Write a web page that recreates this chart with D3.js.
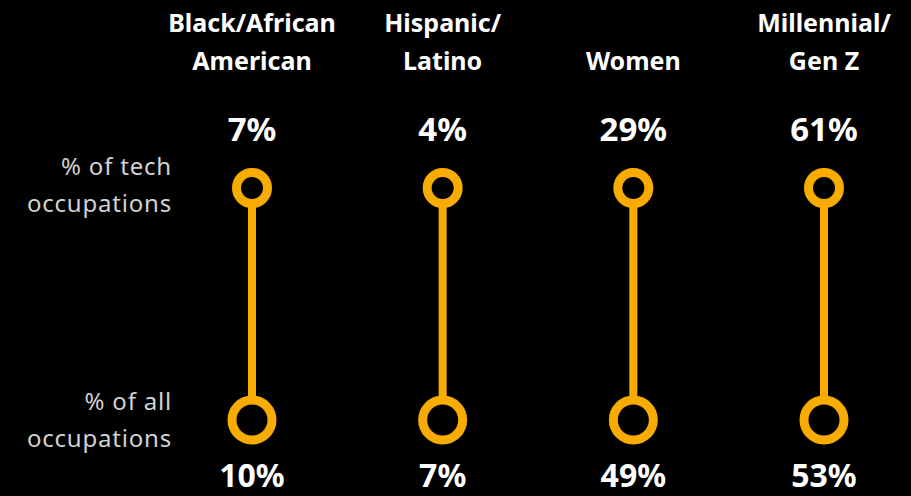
<!DOCTYPE html>
<html>
<head>
<meta charset="utf-8">
<script src="https://cdn.jsdelivr.net/npm/d3@7/dist/d3.min.js"></script>
<style>
  html, body { margin: 0; padding: 0; background: #000; }
  svg { display: block; }
</style>
</head>
<body>
<svg id="chart" width="911" height="496"></svg>
<script>
// ---- data ----
const categories = ["Black/African American", "Hispanic/Latino", "Women", "Millennial/Gen Z"];
const categoryLines = [["Black/African", "American"], ["Hispanic/", "Latino"], ["Women"], ["Millennial/", "Gen Z"]];
const techShare = [7, 4, 29, 61];   // % of tech occupations
const allShare = [10, 7, 49, 53];   // % of all occupations
const rows = ["tech", "all"];
const rowLabels = [["% of tech", "occupations"], ["% of all", "occupations"]];

// ---- layout ----
const W = 911, H = 496;
const ORANGE = "#F8AB00";
const FONT = "'Noto Sans', 'Open Sans', sans-serif";
const svg = d3.select("#chart");
svg.append("rect").attr("width", W).attr("height", H).attr("fill", "#000");

const x = d3.scalePoint().domain(categories).range([252, 824]);
const y = d3.scalePoint().domain(rows).range([188, 420]);
const radius = { tech: 15.5, all: 20 };
const ringWidth = 9;

const data = categories.map((c, i) => ({ cat: c, lines: categoryLines[i], tech: techShare[i], all: allShare[i] }));

const g = svg.append("g");

// connecting stems
g.selectAll("line.stem").data(data).join("line")
  .attr("class", "stem")
  .attr("x1", d => x(d.cat)).attr("x2", d => x(d.cat))
  .attr("y1", y("tech") + radius.tech)
  .attr("y2", y("all") - radius.all)
  .attr("stroke", ORANGE).attr("stroke-width", 8);

// rings
rows.forEach(r => {
  g.selectAll("circle.ring-" + r).data(data).join("circle")
    .attr("class", "ring-" + r)
    .attr("cx", d => x(d.cat)).attr("cy", y(r))
    .attr("r", radius[r])
    .attr("fill", "#000")
    .attr("stroke", ORANGE).attr("stroke-width", ringWidth);
});

// category headers (bottom-aligned lines)
const headerBaseline = 70, headerLead = 38;
data.forEach(d => {
  const n = d.lines.length;
  d.lines.forEach((t, j) => {
    svg.append("text")
      .attr("x", x(d.cat))
      .attr("y", headerBaseline - (n - 1 - j) * headerLead)
      .attr("text-anchor", "middle")
      .attr("fill", "#fff")
      .attr("font-family", FONT).attr("font-weight", 700)
      .attr("font-size", 25)
      .text(t);
  });
});

// value labels
const fmt = v => v + "%";
svg.selectAll("text.val-tech").data(data).join("text")
  .attr("class", "val-tech")
  .attr("x", d => x(d.cat)).attr("y", 141)
  .attr("text-anchor", "middle").attr("fill", "#fff")
  .attr("font-family", FONT).attr("font-weight", 700).attr("font-size", 33)
  .text(d => fmt(d.tech));
svg.selectAll("text.val-all").data(data).join("text")
  .attr("class", "val-all")
  .attr("x", d => x(d.cat)).attr("y", 487)
  .attr("text-anchor", "middle").attr("fill", "#fff")
  .attr("font-family", FONT).attr("font-weight", 700).attr("font-size", 32)
  .text(d => fmt(d.all));

// row labels
const rowBaselines = { tech: 175, all: 410 };
rows.forEach((r, i) => {
  rowLabels[i].forEach((t, j) => {
    svg.append("text")
      .attr("x", 172)
      .attr("y", rowBaselines[r] + j * 37)
      .attr("text-anchor", "end")
      .attr("fill", "#d2d2d2")
      .attr("font-family", FONT).attr("font-weight", 400)
      .attr("font-size", 24)
      .attr("letter-spacing", 0.8)
      .text(t);
  });
});
</script>
</body>
</html>
